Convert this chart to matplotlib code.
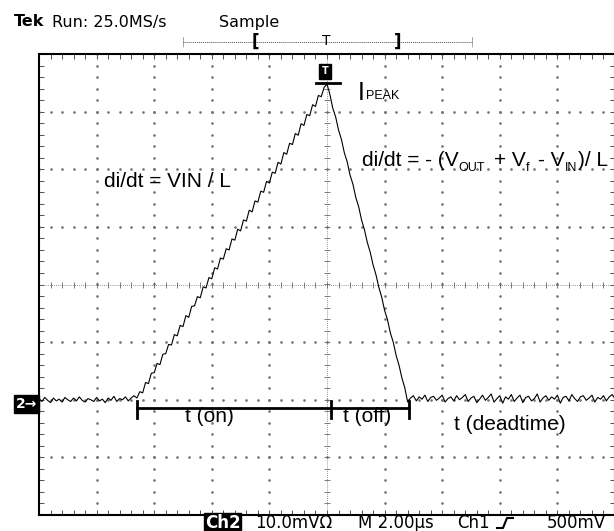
import numpy as np
import matplotlib
matplotlib.use('Agg')
import matplotlib.pyplot as plt
from matplotlib.ticker import MultipleLocator
from matplotlib.lines import Line2D

# scope trace, in graticule divisions (10 x 8, centre = 0,0), one sample every 0.05 div
sample_step = 0.05
trace_y = [
    # baseline before switch-on
    -1.98, -2.03, -1.96, -2.01, -2.05, -1.97, -2.02, -1.99, -2.04, -1.96,
    -2.00, -2.03, -1.97, -2.02, -1.95, -2.01, -2.04, -1.98, -2.00, -2.03,
    -1.96, -2.02, -1.99, -2.05, -1.97, -2.01, -1.94, -2.03, -1.98, -2.00,
    -1.95, -2.02, -1.97, -1.93,
    # ramp up, t(on)
    -1.97, -1.86, -1.88, -1.70, -1.72, -1.54, -1.53, -1.37, -1.39, -1.21,
    -1.20, -1.04, -1.05, -0.87, -0.89, -0.71, -0.73, -0.54, -0.57, -0.38,
    -0.37, -0.21, -0.23, -0.04, -0.06, 0.12, 0.10, 0.29, 0.27, 0.46,
    0.44, 0.62, 0.60, 0.79, 0.77, 0.96, 0.93, 1.12, 1.10, 1.29,
    1.26, 1.45, 1.43, 1.62, 1.60, 1.79, 1.76, 1.95, 1.93, 2.12,
    2.09, 2.29, 2.26, 2.45, 2.43, 2.62, 2.59, 2.79, 2.76, 2.95,
    2.93, 3.12, 3.09, 3.28, 3.26, 3.42, 3.48,
    # ramp down, t(off)
    3.30, 3.06, 2.91, 2.68, 2.52, 2.29, 2.13, 1.90, 1.74, 1.51,
    1.35, 1.12, 0.95, 0.73, 0.56, 0.34, 0.17, -0.05, -0.22, -0.45,
    -0.61, -0.84, -1.00, -1.23, -1.40, -1.62, -1.79, -2.04,
    # dead time
    -1.97, -1.93, -2.02, -1.95, -1.99, -1.92, -2.03, -1.96, -1.94, -2.01,
    -1.97, -1.92, -2.04, -1.98, -1.95, -2.02, -1.93, -2.00, -1.96, -1.91,
    -2.03, -1.97, -1.94, -2.05, -1.99, -1.92, -2.01, -1.96, -1.90, -2.04,
    -1.98, -1.93, -2.06, -1.95, -1.99, -1.91, -2.03, -1.97, -1.92, -2.05,
    -1.96, -1.94, -2.02, -1.98, -1.90, -2.04, -1.97, -1.93, -2.01, -1.95,
    -1.99, -1.92, -2.06, -1.96, -1.94, -2.02, -1.91, -1.98, -2.03, -1.95,
    -1.93, -2.01, -1.97, -1.92, -2.04, -1.96, -1.99, -1.93, -2.02, -1.95,
    -1.91, -1.98,
]
trace_x = np.arange(len(trace_y)) * sample_step

# timing markers (divisions)
t_marks = [1.70, 5.07, 6.42]
t_bar_level = -2.14
t_labels = ['t (on)', 't (off)', 't (deadtime)']
peak_x = 5.0
peak_level = 3.50
ground_level = -2.07

W, H = 614, 531
fig = plt.figure(figsize=(W / 100, H / 100), dpi=100)
ax = fig.add_axes([39 / W, (H - 515) / H, 576 / W, 461 / H])
ax.set_xlim(0, 10)
ax.set_ylim(-4, 4)

def px(x, y):
    return x / W, 1 - y / H

# graticule
dot_kw = dict(color='0.45', marker='o', markersize=0.9, linestyle='none')
ys = np.arange(-4, 4.001, 0.2)
xs = np.arange(0, 10.001, 0.2)
for gx in range(1, 10):
    if gx != 5:
        ax.plot(np.full(len(ys), gx), ys, **dot_kw)
for gy in range(-3, 4):
    if gy != 0:
        ax.plot(xs, np.full(len(xs), gy), **dot_kw)
ax.plot([5, 5], [-4, 4], color='0.45', lw=0.6, linestyle=(0, (1, 1.5)))
ax.plot([0, 10], [0, 0], color='0.45', lw=0.6, linestyle=(0, (1, 1.5)))
ax.plot(np.full(len(ys), 5), ys, color='0.4', marker='_', markersize=5,
        linestyle='none', markeredgewidth=0.6)
ax.plot(xs, np.zeros(len(xs)), color='0.4', marker='|', markersize=5,
        linestyle='none', markeredgewidth=0.6)

ax.xaxis.set_major_locator(MultipleLocator(1))
ax.yaxis.set_major_locator(MultipleLocator(1))
ax.xaxis.set_minor_locator(MultipleLocator(0.2))
ax.yaxis.set_minor_locator(MultipleLocator(0.2))
ax.tick_params(which='both', direction='in', length=3.5, width=0.6,
               color='0.2', top=True, right=True,
               labelbottom=False, labelleft=False)
for s in ax.spines.values():
    s.set_linewidth(1.5)

# trace
ax.plot(trace_x, trace_y, color='black', lw=0.8)

# timing bar
ax.plot([t_marks[0], t_marks[-1]], [t_bar_level, t_bar_level], color='black', lw=2)
for tm in t_marks:
    ax.plot([tm, tm], [t_bar_level + 0.12, t_bar_level - 0.18], color='black', lw=2)

txt = dict(family='Liberation Sans', fontsize=15, color='black')
ax.text(2.96, -2.39, t_labels[0], ha='center', va='baseline', **txt)
ax.text(5.69, -2.39, t_labels[1], ha='center', va='baseline', **txt)
ax.text(7.20, -2.53, t_labels[2], ha='left', va='baseline', **txt)

ax.text(1.12, 1.70, 'di/dt = VIN / L', ha='left', va='baseline', **txt)

# second slope formula, built piece by piece so the subscripts stay small and low
fig.canvas.draw()
renderer = fig.canvas.get_renderer()
pieces = [('di/dt = - (V', 0), ('OUT', 1), ('+ V', 0), ('f', 1),
          ('- V', 0), ('IN', 1), (')/ L', 0)]
space_px = 0.278 * 15 * 100 / 72 * 1.3
x_disp, y_disp = ax.transData.transform((5.60, 2.05))
prev_sub = None
for s, is_sub in pieces:
    if prev_sub == 1 and not is_sub and s != ')/ L':
        x_disp += space_px
    yy = y_disp - (5 if is_sub else 0)
    xd, yd = ax.transData.inverted().transform((x_disp, yy))
    t = ax.text(xd, yd, s, ha='left', va='baseline', family='Liberation Sans',
                fontsize=9 if is_sub else 15)
    bb = t.get_window_extent(renderer)
    x_disp = bb.x1 + (0.8 if is_sub else 0.5)
    prev_sub = is_sub

ax.text(5.54, 3.20, 'I', ha='left', va='baseline', family='Liberation Sans',
        fontsize=18)
ax.text(5.68, 3.215, 'PEAK', ha='left', va='baseline', family='Liberation Sans',
        fontsize=9)

# peak marker
ax.plot([peak_x - 0.19, peak_x + 0.23], [peak_level, peak_level], color='black', lw=2)
ax.text(peak_x - 0.03, 3.70, 'T', ha='center', va='center', color='white',
        fontsize=7, fontweight='bold',
        bbox=dict(boxstyle='square,pad=0.25', fc='black', ec='black'))

# ground marker
ax.text(-0.22, ground_level, '2\u2192', ha='center', va='center', color='white',
        fontsize=10, fontweight='bold', clip_on=False,
        bbox=dict(boxstyle='square,pad=0.15', fc='black', ec='black'))

# header
hdr = dict(family='DejaVu Sans', fontsize=11.5, va='baseline', color='black')
fig.text(*px(14, 26.5), 'Tek', fontweight='bold', **hdr)
fig.text(*px(52, 26.5), 'Run: 25.0MS/s', **hdr)
fig.text(*px(219, 26.5), 'Sample', **hdr)
fig.add_artist(Line2D([183 / W, 472 / W], [1 - 42 / H] * 2, color='0.3', lw=0.7,
                      linestyle=(0, (1, 1))))
for xe in (183, 472):
    fig.add_artist(Line2D([xe / W] * 2, [1 - 37 / H, 1 - 47 / H], color='0.3',
                          lw=0.7, linestyle=(0, (1, 1))))
fig.text(*px(255, 42), '[', fontsize=12, fontweight='bold', ha='center',
         va='center')
fig.text(*px(326, 41), 'T', fontsize=10, ha='center', va='center')
fig.text(*px(398, 42), ']', fontsize=12, fontweight='bold', ha='center',
         va='center')

# footer
ftr = dict(family='DejaVu Sans', fontsize=12, va='baseline', color='black')
fig.text(*px(205, 528), 'Ch2', color='white', fontweight='bold',
         bbox=dict(boxstyle='square,pad=0.05', fc='black', ec='black'),
         family='DejaVu Sans', fontsize=12, va='baseline')
fig.text(*px(255, 528), '10.0mV\u03a9', **ftr)
fig.text(*px(358, 528), 'M 2.00\u00b5s', **ftr)
fig.text(*px(457, 528), 'Ch1', **ftr)
fig.add_artist(Line2D([497 / W, 503 / W, 507 / W, 513 / W],
                      [1 - 528 / H, 1 - 528 / H, 1 - 518 / H, 1 - 518 / H],
                      color='black', lw=1.5))
fig.text(*px(547, 528), '500mV', **ftr)

fig.savefig('out.png', dpi=100)
